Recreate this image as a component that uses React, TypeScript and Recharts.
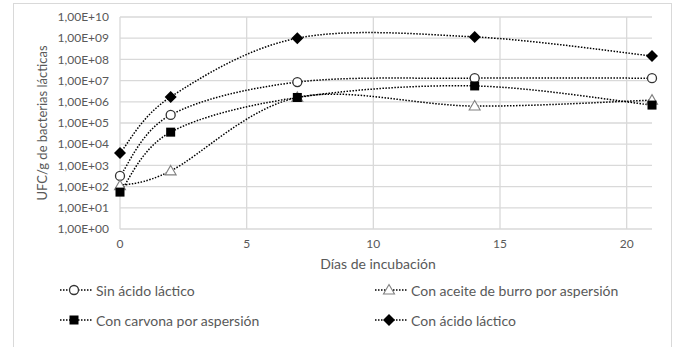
import React from 'react';
import { LineChart, Line, XAxis, YAxis, CartesianGrid } from 'recharts';

const days = [0, 2, 7, 14, 21];
const sinAcido = [320, 240000, 8500000, 13000000, 13000000];
const conAceite = [110, 550, 1600000, 630000, 1200000];
const conCarvona = [55, 37000, 1600000, 5600000, 700000];
const conAcido = [3800, 1700000, 1000000000, 1150000000, 145000000];

const xTicks = [0, 5, 10, 15, 20];
const yTicks = [1, 10, 100, 1e3, 1e4, 1e5, 1e6, 1e7, 1e8, 1e9, 1e10];

const seriesNames = [
  'Sin ácido láctico',
  'Con aceite de burro por aspersión',
  'Con carvona por aspersión',
  'Con ácido láctico',
];

const data = days.map((d, i) => ({
  day: d,
  sin: sinAcido[i],
  aceite: conAceite[i],
  carvona: conCarvona[i],
  acido: conAcido[i],
}));

const FONT = 'Lato, "Noto Sans", sans-serif';
const TXT = '#595959';
const GRID = '#d9d9d9';

function fmtTick(v: number) {
  const e = Math.round(Math.log10(v));
  return '1,00E+' + (e < 10 ? '0' + e : String(e));
}

// Excel-like smoothing (Catmull-Rom style bezier)
function excelCurve(context: any) {
  let pts: number[][] = [];
  return {
    areaStart() {},
    areaEnd() {},
    lineStart() {
      pts = [];
    },
    point(x: number, y: number) {
      pts.push([+x, +y]);
    },
    lineEnd() {
      const n = pts.length;
      if (!n) return;
      context.moveTo(pts[0][0], pts[0][1]);
      for (let i = 0; i < n - 1; i++) {
        const p0 = pts[Math.max(i - 1, 0)];
        const p1 = pts[i];
        const p2 = pts[i + 1];
        const p3 = pts[Math.min(i + 2, n - 1)];
        context.bezierCurveTo(
          p1[0] + (p2[0] - p0[0]) / 6,
          p1[1] + (p2[1] - p0[1]) / 6,
          p2[0] - (p3[0] - p1[0]) / 6,
          p2[1] - (p3[1] - p1[1]) / 6,
          p2[0],
          p2[1]
        );
      }
    },
  };
}

const Circle = (p: any) => (
  <circle key={p.key} cx={p.cx} cy={p.cy} r={4.5} fill="#fff" stroke="#333" strokeWidth={1.3} />
);
const Triangle = (p: any) => (
  <path
    key={p.key}
    d={`M${p.cx},${p.cy - 5.5} L${p.cx + 5.5},${p.cy + 4} L${p.cx - 5.5},${p.cy + 4} Z`}
    fill="#fff"
    stroke="#808080"
    strokeWidth={1.1}
  />
);
const Square = (p: any) => (
  <rect key={p.key} x={p.cx - 4.5} y={p.cy - 4.5} width={9} height={9} fill="#000" />
);
const Diamond = (p: any) => (
  <path
    key={p.key}
    d={`M${p.cx},${p.cy - 6} L${p.cx + 6},${p.cy} L${p.cx},${p.cy + 6} L${p.cx - 6},${p.cy} Z`}
    fill="#000"
  />
);

const markers = [Circle, Triangle, Square, Diamond];

function LegendItem({ idx, left, top }: { idx: number; left: number; top: number }) {
  const M = markers[idx];
  return (
    <div style={{ position: 'absolute', left, top, display: 'flex', alignItems: 'center', height: 20 }}>
      <svg width={36} height={20} style={{ display: 'block' }}>
        <line x1={1} y1={10} x2={33} y2={10} stroke="#000" strokeWidth={1.5} strokeDasharray="1.5 1.5" />
        <M cx={15} cy={10} key="m" />
      </svg>
      <span style={{ fontFamily: FONT, fontSize: 14, color: TXT, marginLeft: 1, whiteSpace: 'nowrap' }}>
        {seriesNames[idx]}
      </span>
    </div>
  );
}

const dash = '1.5 1.5';

export default function App() {
  return (
    <div style={{ position: 'fixed', left: 0, top: 0, width: 675, height: 347, background: '#fff', overflow: 'hidden' }}>
      <div
        style={{
          position: 'absolute',
          left: 13,
          top: 3,
          width: 659,
          height: 350,
          border: '1px solid #d9d9d9',
          boxSizing: 'border-box',
        }}
      />
      <div style={{ position: 'absolute', left: 0, top: 0 }}>
        <LineChart width={675} height={347} data={data} margin={{ top: 17, right: 23, bottom: 98, left: 0 }}>
          <CartesianGrid stroke={GRID} strokeWidth={1.3} verticalValues={xTicks} horizontalValues={yTicks} />
          <XAxis
            dataKey="day"
            type="number"
            domain={[0, 21]}
            ticks={xTicks}
            interval={0}
            axisLine={false}
            tickLine={false}
            tickSize={6}
            tickMargin={4}
            height={20}
            tick={{ fill: TXT, fontSize: 12, fontFamily: FONT }}
          />
          <YAxis
            type="number"
            scale="log"
            domain={[1, 1e10]}
            ticks={yTicks}
            interval={0}
            allowDataOverflow
            axisLine={false}
            tickLine={false}
            tickSize={6}
            tickMargin={5}
            width={120}
            tickFormatter={fmtTick}
            tick={{ fill: TXT, fontSize: 12, fontFamily: FONT }}
          />
          <Line dataKey="sin" type={excelCurve as any} stroke="#000" strokeWidth={1.5} strokeDasharray={dash} dot={Circle} isAnimationActive={false} />
          <Line dataKey="aceite" type={excelCurve as any} stroke="#000" strokeWidth={1.5} strokeDasharray={dash} dot={Triangle} isAnimationActive={false} />
          <Line dataKey="carvona" type={excelCurve as any} stroke="#000" strokeWidth={1.5} strokeDasharray={dash} dot={Square} isAnimationActive={false} />
          <Line dataKey="acido" type={excelCurve as any} stroke="#000" strokeWidth={1.5} strokeDasharray={dash} dot={Diamond} isAnimationActive={false} />
        </LineChart>
      </div>
      <div
        style={{
          position: 'absolute',
          left: 42,
          top: 123,
          transform: 'translate(-50%, -50%) rotate(-90deg)',
          fontFamily: FONT,
          fontSize: 13,
          color: TXT,
          whiteSpace: 'nowrap',
        }}
      >
        UFC/g de bacterias lácticas
      </div>
      <div
        style={{
          position: 'absolute',
          left: 378,
          top: 263,
          transform: 'translate(-50%, -50%)',
          fontFamily: FONT,
          fontSize: 14,
          color: TXT,
          whiteSpace: 'nowrap',
        }}
      >
        Días de incubación
      </div>
      <LegendItem idx={0} left={59} top={280} />
      <LegendItem idx={1} left={374} top={280} />
      <LegendItem idx={2} left={59} top={310} />
      <LegendItem idx={3} left={374} top={310} />
    </div>
  );
}
